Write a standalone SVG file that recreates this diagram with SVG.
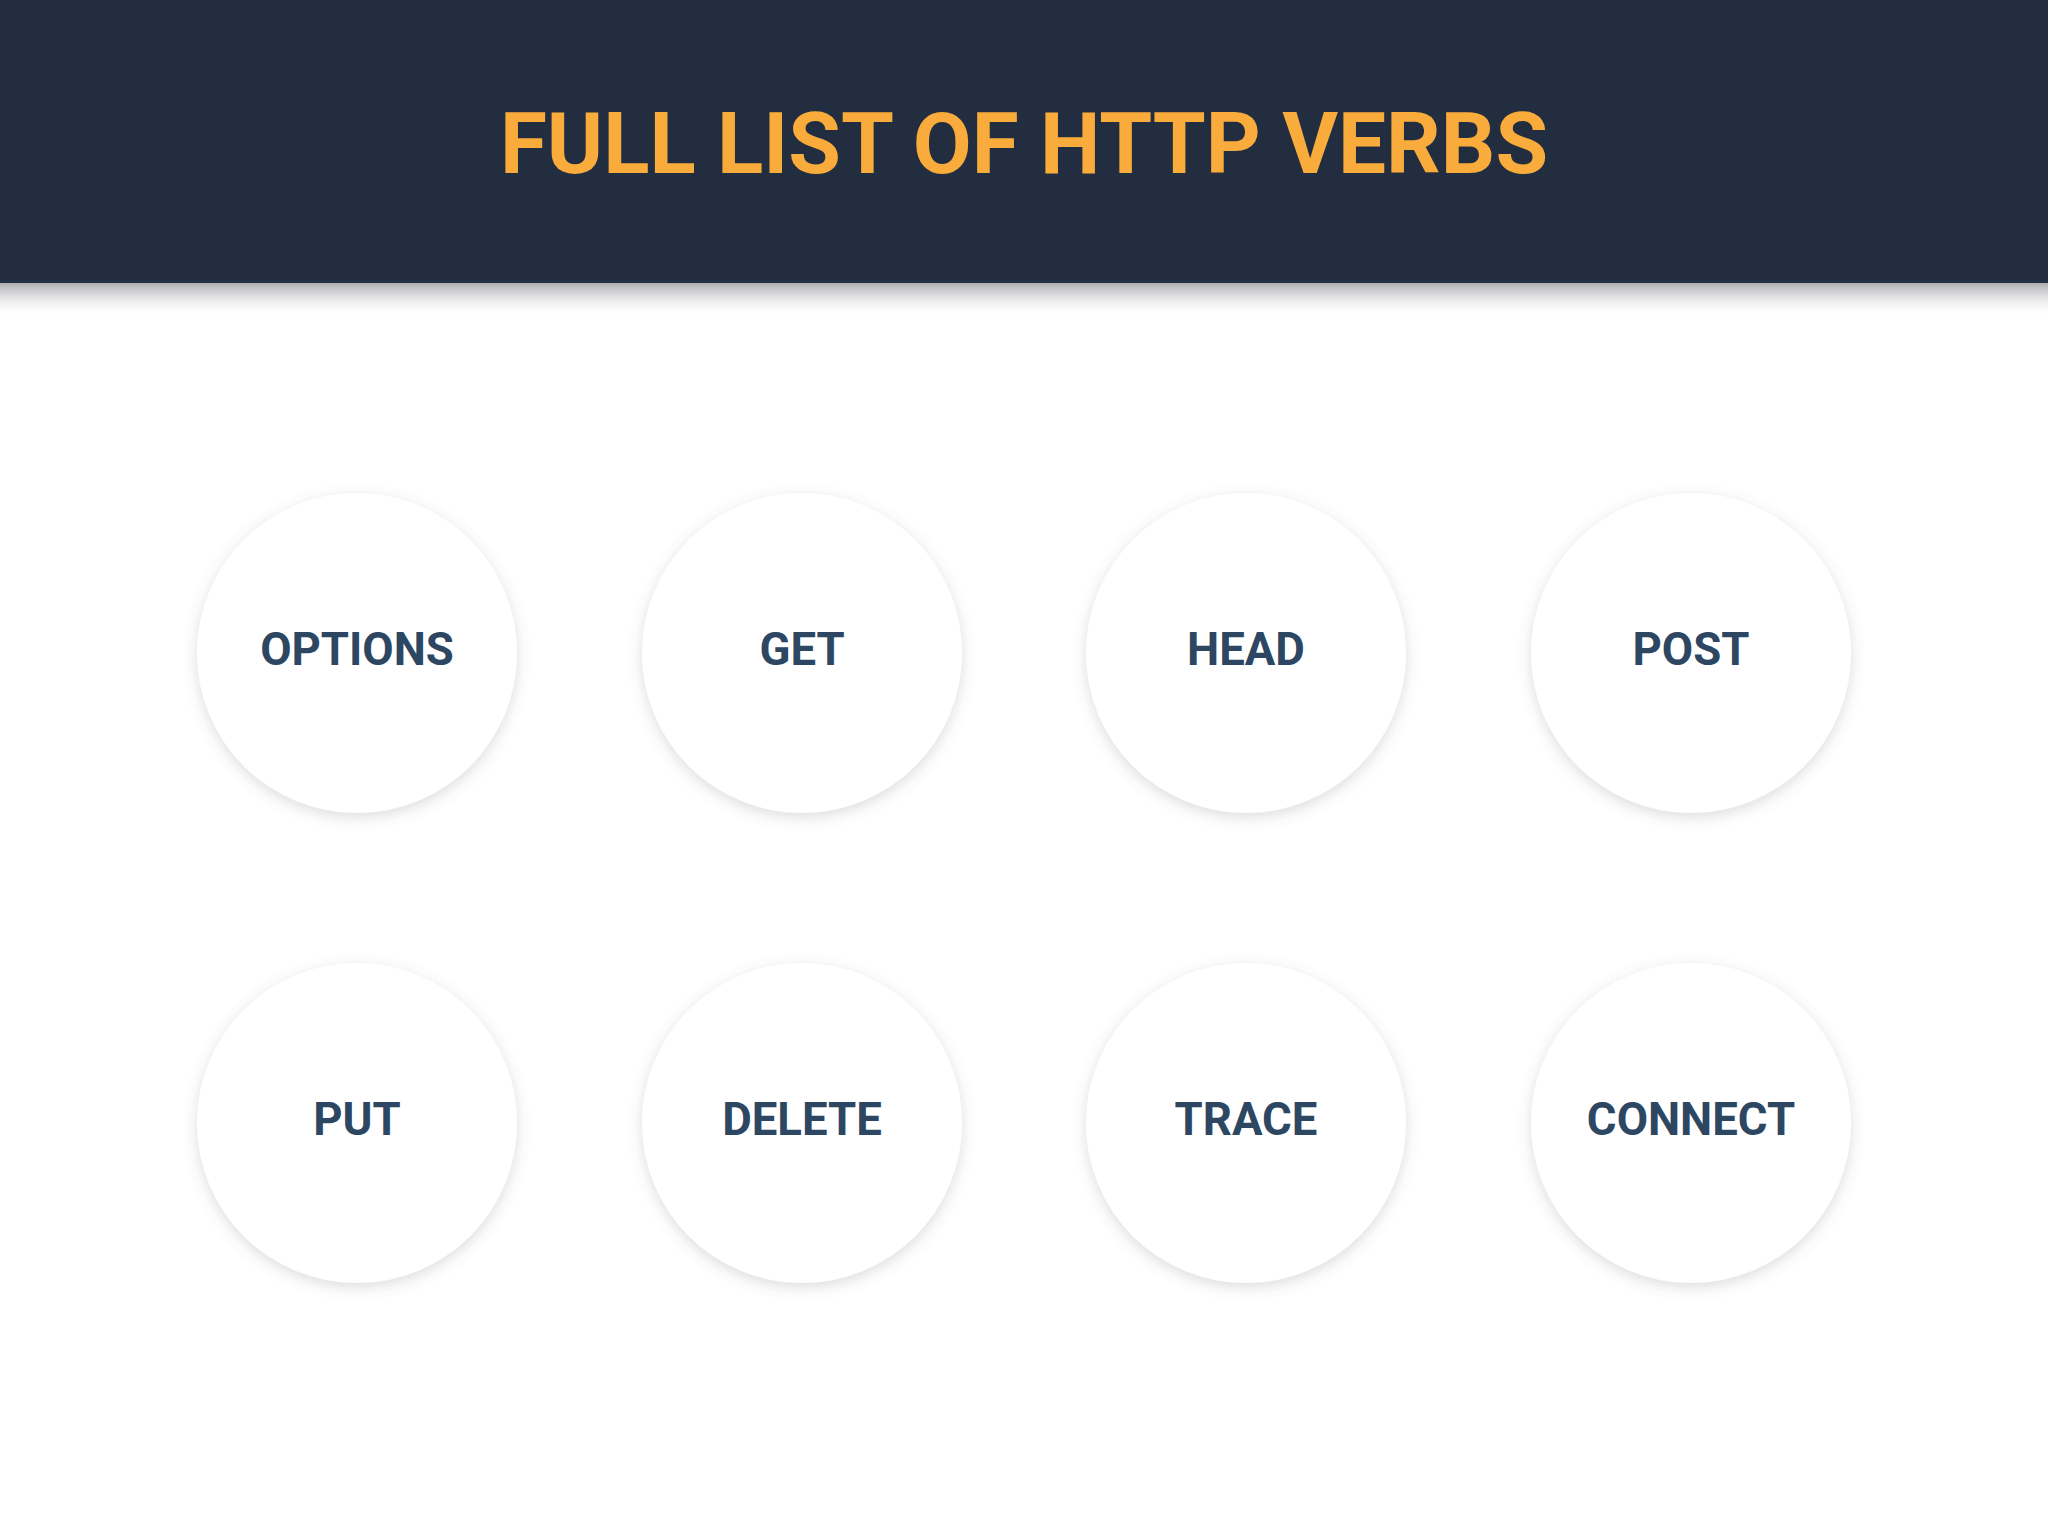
<svg xmlns="http://www.w3.org/2000/svg" width="2048" height="1536" viewBox="0 0 2048 1536">
<defs>
<linearGradient id="hdrShadow" x1="0" y1="0" x2="0" y2="1">
<stop offset="0" stop-color="#9a9a9e" stop-opacity="0.8"/>
<stop offset="0.45" stop-color="#c4c4c8" stop-opacity="0.45"/>
<stop offset="1" stop-color="#ffffff" stop-opacity="0"/>
</linearGradient>
<filter id="soft" x="-30%" y="-30%" width="160%" height="160%">
<feGaussianBlur in="SourceAlpha" stdDeviation="7"/>
<feOffset dx="0" dy="4" result="b"/>
<feFlood flood-color="#6a5a70" flood-opacity="0.22"/>
<feComposite in2="b" operator="in"/>
<feMerge><feMergeNode/><feMergeNode in="SourceGraphic"/></feMerge>
</filter>
</defs>
<style>
.bubble{fill:#ffffff;filter:url(#soft)}
.lbl{font-family:Roboto,"Liberation Sans",sans-serif;font-weight:700;font-size:45.5px;fill:#2d4763;text-anchor:middle}
.title{font-family:Roboto,"Liberation Sans",sans-serif;font-weight:700;font-size:85.5px;fill:#f9ab3b;text-anchor:middle}
</style>
<rect x="0" y="0" width="2048" height="1536" fill="#ffffff"/>
<rect x="0" y="283" width="2048" height="34" fill="url(#hdrShadow)"/>
<rect x="0" y="0" width="2048" height="283" fill="#222e40"/>
<text class="title" x="1024" y="173">FULL LIST OF HTTP VERBS</text>
<g id="connectors"/>
<g id="node-options"><circle class="bubble" cx="357" cy="653" r="160"/><text class="lbl" x="357" y="665">OPTIONS</text></g>
<g id="node-get"><circle class="bubble" cx="802" cy="653" r="160"/><text class="lbl" x="802" y="665">GET</text></g>
<g id="node-head"><circle class="bubble" cx="1246" cy="653" r="160"/><text class="lbl" x="1246" y="665">HEAD</text></g>
<g id="node-post"><circle class="bubble" cx="1691" cy="653" r="160"/><text class="lbl" x="1691" y="665">POST</text></g>
<g id="node-put"><circle class="bubble" cx="357" cy="1123" r="160"/><text class="lbl" x="357" y="1135">PUT</text></g>
<g id="node-delete"><circle class="bubble" cx="802" cy="1123" r="160"/><text class="lbl" x="802" y="1135">DELETE</text></g>
<g id="node-trace"><circle class="bubble" cx="1246" cy="1123" r="160"/><text class="lbl" x="1246" y="1135">TRACE</text></g>
<g id="node-connect"><circle class="bubble" cx="1691" cy="1123" r="160"/><text class="lbl" x="1691" y="1135">CONNECT</text></g>
</svg>
